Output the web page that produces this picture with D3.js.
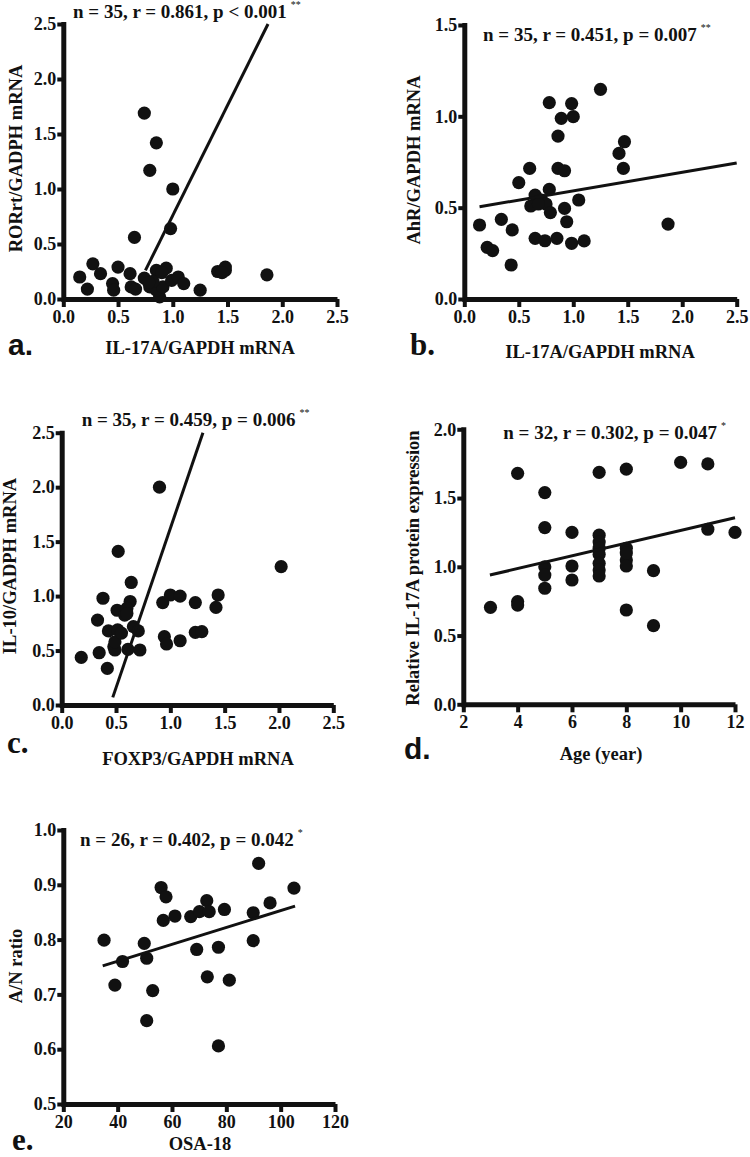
<!DOCTYPE html>
<html>
<head>
<meta charset="utf-8">
<script src="https://cdn.jsdelivr.net/npm/d3@7"></script>
<style>
  body { margin: 0; background: #fff; overflow: hidden; }
  #chart text { font-family: "Liberation Serif", "Times New Roman", serif; font-weight: bold; fill: #111; }
  #chart path.domain { stroke: #111; stroke-width: 5px; }
  #chart .y-axis path.domain { stroke-linecap: square; }
  #chart .tick line { stroke: #111; stroke-width: 4px; }
  #chart .tick text { font-size: 18px; }
</style>
</head>
<body>
<div id="chart"></div>
<script>

// a. RORrt/GADPH vs IL-17A/GAPDH
var rorX = [0.74,0.85,0.79,1.00,0.98,0.65,0.27,0.15,0.22,0.34,0.50,0.45,0.46,0.61,0.62,0.66,0.74,0.79,0.85,0.94,0.88,0.85,0.91,0.82,0.99,1.05,1.10,1.25,1.41,1.48,1.48,1.45,1.86,0.90,0.78]
var rorY = [1.69,1.42,1.17,1.00,0.64,0.56,0.32,0.20,0.09,0.23,0.29,0.14,0.08,0.23,0.11,0.09,0.19,0.11,0.26,0.28,0.02,0.08,0.11,0.16,0.17,0.20,0.14,0.08,0.25,0.26,0.29,0.24,0.22,0.24,0.15]
var rorFit = [[0.75, 0.26], [1.87, 2.5]]

// b. AhR/GAPDH vs IL-17A/GAPDH
var ahrX = [0.14,0.21,0.26,0.34,0.43,0.44,0.50,0.60,0.61,0.65,0.65,0.71,0.74,0.75,0.79,0.78,0.78,0.85,0.86,0.86,0.89,0.92,0.92,0.94,0.985,0.985,1.00,1.05,1.10,1.25,1.42,1.47,1.46,1.87,0.68]
var ahrY = [0.405,0.283,0.265,0.436,0.186,0.378,0.637,0.715,0.509,0.569,0.332,0.542,0.319,0.52,0.473,0.60,1.075,0.332,0.892,0.715,0.989,0.702,0.496,0.423,0.305,1.07,0.998,0.542,0.318,1.148,0.797,0.861,0.715,0.41,0.52]
var ahrFit = [[0.14, 0.505], [2.5, 0.745]]

// c. IL-10/GADPH vs FOXP3/GAPDH
var il10X = [0.18,0.33,0.345,0.38,0.42,0.43,0.48,0.49,0.51,0.515,0.52,0.49,0.58,0.61,0.63,0.64,0.60,0.66,0.705,0.72,0.90,0.93,0.945,0.965,1.00,1.09,1.09,1.23,1.23,1.29,1.44,1.42,2.02,0.55,0.60]
var il10Y = [0.437,0.78,0.48,0.98,0.336,0.68,0.535,0.505,0.87,0.69,1.41,0.58,0.826,0.51,0.95,1.125,0.887,0.72,0.68,0.505,2.0,0.94,0.627,0.56,1.01,1.0,0.59,0.94,0.667,0.673,1.01,0.896,1.27,0.66,0.84]
var il10Fit = [[0.47, 0.07], [1.30, 2.5]]

// d. IL-17A protein vs age
var ageX = [3,4,4,4,5,5,5,5,5,6,6,6,7,7,7,7,7,7,7,7,8,8,8,8,8,9,9,10,11,11,12,8]
var ageY = [0.705,1.68,0.747,0.722,1.54,1.285,1.0,0.94,0.844,1.25,1.006,0.904,1.687,1.23,1.18,1.135,1.09,1.025,0.977,0.933,1.71,1.135,1.05,1.006,0.686,0.972,0.572,1.76,1.748,1.273,1.25,1.1]
var ageFit = [[2.98, 0.94], [12, 1.357]]

// e. A/N ratio vs OSA-18
var osaX = [35.0,39.0,41.8,49.8,50.7,52.9,50.7,56.0,57.8,56.8,61.1,66.9,69.1,70.1,72.8,73.0,73.7,77.1,79.3,81.1,77.1,89.9,89.9,91.9,96.1,104.9]
var osaY = [0.799,0.717,0.76,0.793,0.766,0.707,0.652,0.895,0.878,0.835,0.843,0.842,0.782,0.851,0.871,0.732,0.851,0.786,0.855,0.726,0.606,0.849,0.798,0.939,0.867,0.894]
var osaFit = [[34.5, 0.752], [105.3, 0.861]]

var ticksMrna = [0, 0.5, 1.0, 1.5, 2.0, 2.5]
var ticksAhr = [0, 0.5, 1.0, 1.5]
var ticksProt = [0, 0.5, 1.0, 1.5, 2.0]
var ticksAge = [2, 4, 6, 8, 10, 12]
var ticksOsa = [20, 40, 60, 80, 100, 120]
var ticksRatio = [0.5, 0.6, 0.7, 0.8, 0.9, 1.0]

var fmt1 = d3.format(".1f")
var fmt0 = d3.format("d")

var panels = [
    { letter: "a.", letterSans: true, xs: rorX, ys: rorY, fit: rorFit,
      title: "n = 35, r = 0.861, p < 0.001", stars: "**",
      xLabel: "IL-17A/GAPDH mRNA", yLabel: "RORrt/GADPH mRNA",
      xDomain: [0, 2.5], yDomain: [0, 2.5], xTicks: ticksMrna, yTicks: ticksMrna, xFmt: fmt1, yFmt: fmt1,
      box: { left: 63.3, right: 337, top: 24, bottom: 299 },
      titlePos: [73, 18], yLabelPos: [16, 158.5], xLabelPos: [200, 354], letterPos: [8, 355] },
    { letter: "b.", letterSans: false, xs: ahrX, ys: ahrY, fit: ahrFit,
      title: "n = 35, r = 0.451, p = 0.007", stars: "**",
      xLabel: "IL-17A/GAPDH mRNA", yLabel: "AhR/GAPDH mRNA",
      xDomain: [0, 2.5], yDomain: [0, 1.5], xTicks: ticksMrna, yTicks: ticksAhr, xFmt: fmt1, yFmt: fmt1,
      box: { left: 464.3, right: 736.7, top: 25, bottom: 299 },
      titlePos: [483, 40.5], yLabelPos: [414, 160], xLabelPos: [600, 358], letterPos: [410, 355] },
    { letter: "c.", letterSans: false, xs: il10X, ys: il10Y, fit: il10Fit,
      title: "n = 35, r = 0.459, p = 0.006", stars: "**",
      xLabel: "FOXP3/GAPDH mRNA", yLabel: "IL-10/GADPH mRNA",
      xDomain: [0, 2.5], yDomain: [0, 2.5], xTicks: ticksMrna, yTicks: ticksMrna, xFmt: fmt1, yFmt: fmt1,
      box: { left: 61.7, right: 333.3, top: 432.7, bottom: 705 },
      titlePos: [81.7, 426], yLabelPos: [10, 566], xLabelPos: [198, 765], letterPos: [7, 753] },
    { letter: "d.", letterSans: true, xs: ageX, ys: ageY, fit: ageFit,
      title: "n = 32, r = 0.302, p = 0.047", stars: "*",
      xLabel: "Age (year)", yLabel: "Relative IL-17A protein expression",
      xDomain: [2, 12], yDomain: [0, 2.0], xTicks: ticksAge, yTicks: ticksProt, xFmt: fmt0, yFmt: fmt1,
      box: { left: 463.3, right: 735, top: 429.3, bottom: 704.3 },
      titlePos: [503.3, 439], yLabelPos: [412.5, 568], xLabelPos: [601, 760], letterPos: [404, 759] },
    { letter: "e.", letterSans: false, xs: osaX, ys: osaY, fit: osaFit,
      title: "n = 26, r = 0.402, p = 0.042", stars: "*",
      xLabel: "OSA-18", yLabel: "A/N ratio",
      xDomain: [20, 120], yDomain: [0.5, 1.0], xTicks: ticksOsa, yTicks: ticksRatio, xFmt: fmt0, yFmt: fmt1,
      box: { left: 63.3, right: 335, top: 830, bottom: 1104 },
      titlePos: [80, 846], yLabelPos: [15.8, 966], xLabelPos: [200, 1150], letterPos: [12, 1150] }
]

var svg = d3.select("#chart").append("svg")
    .attr("width", 750)
    .attr("height", 1157)
    .style("display", "block")

panels.forEach(function(p) {

    var x = d3.scaleLinear().domain(p.xDomain).range([p.box.left, p.box.right])
    var y = d3.scaleLinear().domain(p.yDomain).range([p.box.bottom, p.box.top])

    var g = svg.append("g")

    // dots under the axes, the fit line over the dots
    var pts = p.xs.map(function(v, i) { return [v, p.ys[i]] })

    g.append("g")
        .selectAll("circle")
        .data(pts)
        .enter()
        .append("circle")
        .attr("cx", function(d) { return x(d[0]) })
        .attr("cy", function(d) { return y(d[1]) })
        .attr("r", 6.6)
        .attr("fill", "#111")

    g.append("path")
        .datum(p.fit)
        .attr("d", d3.line().x(function(d) { return x(d[0]) }).y(function(d) { return y(d[1]) }))
        .attr("fill", "none")
        .attr("stroke", "#111")
        .attr("stroke-width", 3)

    g.append("g")
        .attr("class", "x-axis")
        .attr("transform", "translate(0," + p.box.bottom + ")")
        .call(d3.axisBottom(x).tickValues(p.xTicks).tickFormat(p.xFmt).tickSize(8).tickSizeOuter(0).tickPadding(3))

    g.append("g")
        .attr("class", "y-axis")
        .attr("transform", "translate(" + p.box.left + ",0)")
        .call(d3.axisLeft(y).tickValues(p.yTicks).tickFormat(p.yFmt).tickSize(6).tickSizeOuter(0).tickPadding(1))

    var title = g.append("text")
        .attr("x", p.titlePos[0])
        .attr("y", p.titlePos[1])
        .attr("font-size", 19)
        .text(p.title)

    title.append("tspan")
        .attr("dx", 4)
        .attr("dy", -10)
        .attr("font-size", 10)
        .style("font-weight", "normal")
        .text(p.stars)

    g.append("text")
        .attr("transform", "translate(" + p.yLabelPos[0] + "," + p.yLabelPos[1] + ") rotate(-90)")
        .attr("text-anchor", "middle")
        .attr("dy", "0.35em")
        .attr("font-size", 18.5)
        .text(p.yLabel)

    g.append("text")
        .attr("x", p.xLabelPos[0])
        .attr("y", p.xLabelPos[1])
        .attr("text-anchor", "middle")
        .attr("font-size", 18.5)
        .text(p.xLabel)

    var letter = g.append("text")
        .attr("x", p.letterPos[0])
        .attr("y", p.letterPos[1])
        .attr("font-size", p.letterSans ? 30 : 31)
        .text(p.letter)

    if (p.letterSans) letter.style("font-family", "'Liberation Sans', Arial, sans-serif")

})

</script>
</body>
</html>
